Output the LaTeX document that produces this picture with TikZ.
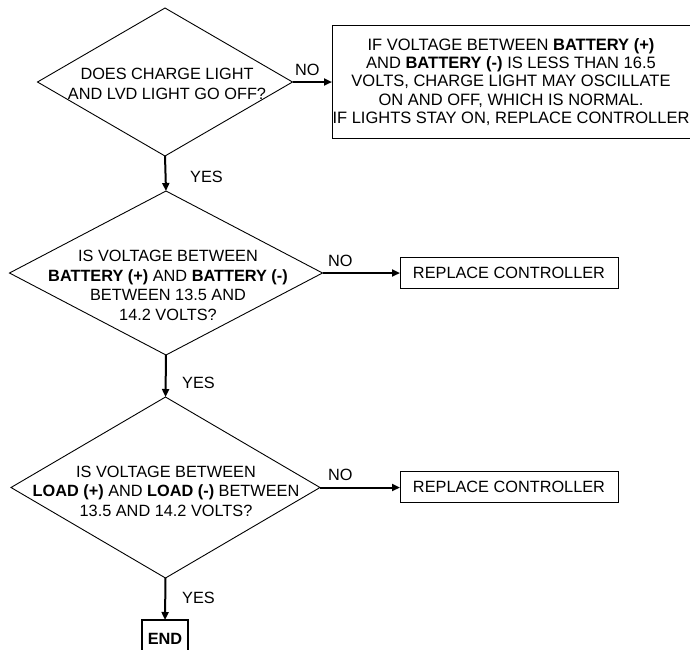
\documentclass[tikz,border=0pt]{standalone}
\usepackage{fontspec}
\setmainfont{Liberation Sans}
\usetikzlibrary{shapes.geometric,arrows.meta}
\begin{document}
\begin{tikzpicture}[x=1pt,y=-1pt,
  every node/.style={font=\fontsize{16.3}{19.5}\selectfont},
  dia/.style={shape=diamond,draw,line width=0.9pt,inner sep=0pt,outer sep=0pt},
  txt/.style={align=center,inner sep=0pt},
  boxtxt/.style={align=center,inner sep=0pt,font=\fontsize{16.5}{18.35}\selectfont},
  rbox/.style={draw,line width=0.9pt,inner sep=0pt,outer sep=0pt},
  endbox/.style={draw,line width=2.6pt,inner sep=0pt,outer sep=0pt,font=\fontsize{16.3}{19}\selectfont\bfseries},
  arr/.style={line width=2pt,-{Triangle[length=8pt,width=7pt]}},
  lbl/.style={inner sep=0pt,anchor=west}
]
\useasboundingbox (0,0) rectangle (690,649);

% diamonds
\node[dia,minimum width=255pt,minimum height=148pt] (d1) at (165,82) {};
\node[dia,minimum width=313pt,minimum height=164pt] (d2) at (166,273) {};
\node[dia,minimum width=309pt,minimum height=181pt] (d3) at (165.5,487.5) {};

\node[txt] (t1) at (167,84) {DOES CHARGE LIGHT\\AND LVD LIGHT GO OFF?};
\node[txt] (t2) at (168,285.5) {IS VOLTAGE BETWEEN\\\textbf{BATTERY (+)} AND \textbf{BATTERY (-)}\\BETWEEN 13.5 AND\\14.2 VOLTS?};
\node[txt] (t3) at (166,491) {IS VOLTAGE BETWEEN\\\textbf{LOAD (+)} AND \textbf{LOAD (-)} BETWEEN\\13.5 AND 14.2 VOLTS?};

% boxes
\node[rbox,minimum width=368pt,minimum height=113pt] (b1) at (516,81.5) {};
\node[boxtxt] (bt1) at (511,82) {IF VOLTAGE BETWEEN \textbf{BATTERY (+)}\\AND \textbf{BATTERY (-)} IS LESS THAN 16.5\\VOLTS, CHARGE LIGHT MAY OSCILLATE\\ON AND OFF, WHICH IS NORMAL.\\IF LIGHTS STAY ON, REPLACE CONTROLLER};
\node[rbox,minimum width=218pt,minimum height=31pt] (b2) at (509,272.5) {REPLACE CONTROLLER};
\node[rbox,minimum width=218pt,minimum height=31pt] (b3) at (509,486.5) {REPLACE CONTROLLER};
\node[endbox,minimum width=46pt,minimum height=38pt] (e) at (165,639) {END};

% connectors
\draw[arr] (d1.east) -- (d1.east -| b1.west);
\draw[arr] (d2.east) -- (d2.east -| b2.west);
\draw[arr] (d3.east) -- (d3.east -| b3.west);
\draw[arr] (d1.south) -- (d2.north);
\draw[arr] (d2.south) -- (d3.north);
\draw[arr] (d3.south) -- (e.north);

% labels
\node[lbl] (n1) at (295,70) {NO};
\node[lbl] (n2) at (328,261) {NO};
\node[lbl] (n3) at (328,475) {NO};
\node[lbl] (y1) at (190,177) {YES};
\node[lbl] (y2) at (182,383) {YES};
\node[lbl] (y3) at (182,598) {YES};
\end{tikzpicture}
\end{document}
